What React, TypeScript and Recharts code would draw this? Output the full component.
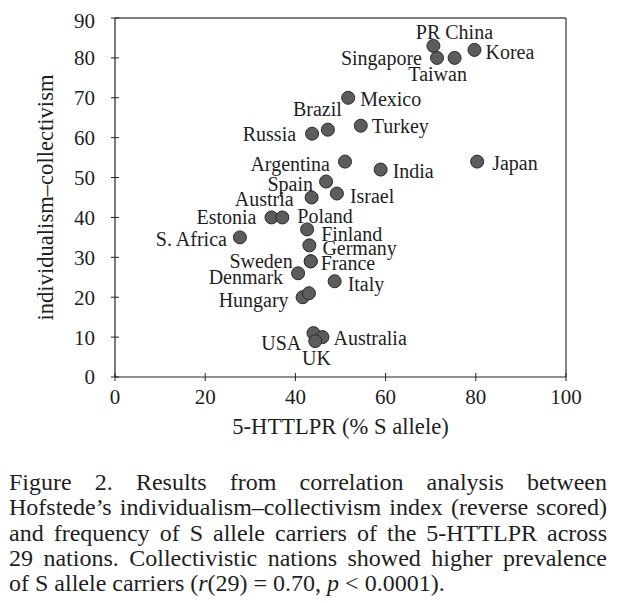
import { Label, ReferenceLine, Scatter, ScatterChart, XAxis, YAxis } from 'recharts'

const FONT = '"Liberation Serif", "Times New Roman", serif'
const INK = '#1e1e1e'

// 5-HTTLPR S allele frequency vs reverse-scored Hofstede IDV, one entry per nation
const countries = [
  'PR China', 'Singapore', 'Taiwan', 'Korea', 'Mexico', 'Brazil', 'Russia', 'Turkey',
  'Argentina', 'India', 'Japan', 'Spain', 'Israel', 'Austria', 'Estonia', 'Poland',
  'S. Africa', 'Finland', 'Germany', 'France', 'Sweden', 'Denmark', 'Italy', 'Hungary',
  '', 'UK', 'Australia', 'USA',
]
const sAllele = [
  70.6, 71.4, 75.3, 79.7, 51.7, 47.2, 43.7, 54.5,
  51.0, 58.9, 80.3, 46.8, 49.2, 43.6, 34.7, 37.1,
  27.7, 42.6, 43.1, 43.4, 43.4, 40.6, 48.7, 41.6,
  43.0, 44.0, 46.0, 44.4,
]
const collectivism = [
  83, 80, 80, 82, 70, 62, 61, 63,
  54, 52, 54, 49, 46, 45, 40, 40,
  35, 37, 33, 29, 29, 26, 24, 20,
  21, 11, 10, 9,
]

const xTicks = [0, 20, 40, 60, 80, 100]
const yTicks = [0, 10, 20, 30, 40, 50, 60, 70, 80, 90]

// where each name sits relative to its dot: [dx, dy, anchor]
type Anchor = 'start' | 'middle' | 'end'
const labelPlacement: Record<string, [number, number, Anchor]> = {
  'PR China': [21, -14, 'middle'],
  Singapore: [-15, 0, 'end'],
  Taiwan: [-17, 16, 'middle'],
  Korea: [11, 2, 'start'],
  Mexico: [12, 1, 'start'],
  Brazil: [14, -21, 'end'],
  Russia: [-16, 0, 'end'],
  Turkey: [11, 0, 'start'],
  Argentina: [-15, 2, 'end'],
  India: [12, 1, 'start'],
  Japan: [15, 1, 'start'],
  Spain: [-13, 2, 'end'],
  Israel: [13, 2, 'start'],
  Austria: [-18, 1, 'end'],
  Estonia: [-15, 0, 'end'],
  Poland: [15, -1, 'start'],
  'S. Africa': [-13, 2, 'end'],
  Finland: [14, 5, 'start'],
  Germany: [13, 3, 'start'],
  France: [10, 2, 'start'],
  Sweden: [-18, 0, 'end'],
  Denmark: [-15, 4, 'end'],
  Italy: [13, 3, 'start'],
  Hungary: [-14, 3, 'end'],
  UK: [3, 25, 'middle'],
  Australia: [11, 1, 'start'],
  USA: [-14, 2, 'end'],
}

const points = countries.map((country, i) => ({
  country,
  x: sAllele[i],
  y: collectivism[i],
}))

function Dot(props: any) {
  const { cx, cy } = props
  return <circle cx={cx} cy={cy} r={6.5} fill="#5c5c5c" stroke="#2a2a2a" strokeWidth={1} />
}

function CountryName(props: any) {
  const { cx, cy, payload } = props
  const p = labelPlacement[payload.country]
  if (!p) return <g />
  return (
    <text
      x={cx + p[0]}
      y={cy + p[1]}
      dy="0.35em"
      textAnchor={p[2]}
      fontFamily={FONT}
      fontSize={20}
      fill={INK}
    >
      {payload.country}
    </text>
  )
}

function XTitle({ viewBox }: any) {
  return (
    <text
      x={viewBox.x + viewBox.width / 2}
      y={viewBox.y + 49}
      dy="0.35em"
      textAnchor="middle"
      fontFamily={FONT}
      fontSize={22.6}
      fill={INK}
    >
      5-HTTLPR (% S allele)
    </text>
  )
}

function YTitle({ viewBox }: any) {
  const cx = 37
  const cy = viewBox.y + viewBox.height / 2
  return (
    <text
      x={cx}
      y={cy}
      dy="0.35em"
      textAnchor="middle"
      transform={`rotate(-90 ${cx} ${cy})`}
      fontFamily={FONT}
      fontSize={22.6}
      fill={INK}
    >
      individualism–collectivism
    </text>
  )
}

const tickText = { fill: INK, fontSize: 21, fontFamily: FONT }
const axisLine = { stroke: '#222', strokeWidth: 1.2 }
const fullLine = { textAlign: 'justify', textAlignLast: 'justify' } as const

export default function App() {
  return (
    <div style={{ width: 600, fontFamily: FONT, color: INK }}>
      <ScatterChart
        width={600}
        height={450}
        margin={{ top: 10, right: 42, bottom: 21, left: 0 }}
      >
        <XAxis
          type="number"
          dataKey="x"
          domain={[0, 100]}
          ticks={xTicks}
          height={60}
          tickSize={8}
          tickMargin={4}
          axisLine={axisLine}
          tickLine={{ stroke: '#222', transform: 'translate(0,-4)' }}
          tick={tickText}
        >
          <Label content={XTitle} />
        </XAxis>
        <YAxis
          type="number"
          dataKey="y"
          domain={[0, 90]}
          ticks={yTicks}
          width={107}
          tickSize={8}
          tickMargin={12}
          axisLine={axisLine}
          tickLine={{ stroke: '#222', transform: 'translate(4,0)' }}
          tick={tickText}
        >
          <Label content={YTitle} />
        </YAxis>
        <ReferenceLine y={90} stroke="#555" strokeWidth={1.4} />
        <ReferenceLine x={100} stroke="#333" strokeWidth={1.2} />
        <Scatter data={points} shape={Dot} isAnimationActive={false} />
        <Scatter data={points} shape={CountryName} isAnimationActive={false} />
      </ScatterChart>
      <div style={{ marginTop: 12, marginLeft: 1, width: 598, fontSize: 24, lineHeight: '25.3px' }}>
        <div style={fullLine}>Figure 2. Results from correlation analysis between</div>
        <div style={fullLine}>Hofstede’s individualism–collectivism index (reverse scored)</div>
        <div style={fullLine}>and frequency of S allele carriers of the 5-HTTLPR across</div>
        <div style={fullLine}>29 nations. Collectivistic nations showed higher prevalence</div>
        <div>
          of S allele carriers (<i>r</i>(29) = 0.70, <i>p</i> &lt; 0.0001).
        </div>
      </div>
    </div>
  )
}
